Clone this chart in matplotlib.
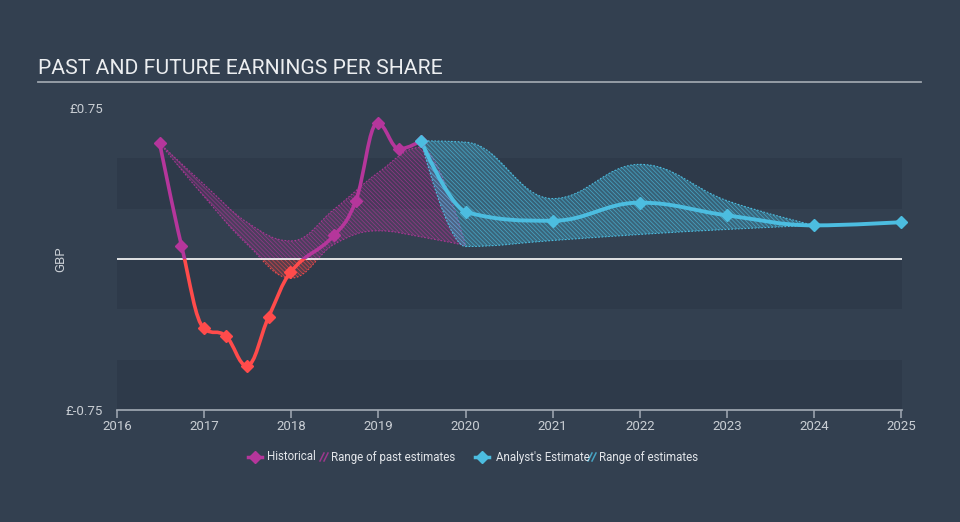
import matplotlib
matplotlib.use('Agg')
import matplotlib.pyplot as plt
from matplotlib.path import Path
from matplotlib.patches import PathPatch, Rectangle
from matplotlib.lines import Line2D

plt.rcParams['font.family'] = ['Roboto', 'DejaVu Sans']
plt.rcParams['hatch.linewidth'] = 0.55

# ---------------- data ----------------
hist_x = [2016.49, 2016.74, 2017.0, 2017.25, 2017.49, 2017.74, 2017.99,
          2018.49, 2018.74, 2018.99, 2019.24, 2019.49]
hist_y = [0.575, 0.067, -0.345, -0.383, -0.53, -0.288, -0.067,
          0.117, 0.288, 0.675, 0.547, 0.587]

fc_x = [2019.49, 2020.0, 2021.0, 2022.0, 2023.0, 2024.0, 2025.0]
fc_y = [0.587, 0.233, 0.19, 0.28, 0.217, 0.167, 0.183]

fr_x = [2019.49, 2020.0, 2021.0, 2022.0, 2023.0, 2024.0]
fr_hi = [0.587, 0.58, 0.30, 0.47, 0.29, 0.167]
fr_lo = [0.587, 0.062, 0.092, 0.122, 0.147, 0.167]

pr_x = [2016.49, 2017.0, 2017.5, 2018.0, 2018.5, 2019.0, 2019.49, 2020.0]
pr_hi = [0.575, 0.37, 0.18, 0.09, 0.25, 0.43, 0.555, 0.067]
pr_lo = [0.575, 0.31, 0.07, -0.095, 0.075, 0.14, 0.11, 0.067]

year_ticks = [2016, 2017, 2018, 2019, 2020, 2021, 2022, 2023, 2024, 2025]
y_ticks = [-0.75, 0.75]
y_labels = ['£-0.75', '£0.75']

# ---------------- colours ----------------
BG = '#334050'
DARK = '#2e3a4a'
PURPLE = '#b5369b'
RED = '#ff4b4b'
CYAN = '#4cbde0'
AXIS = '#a3abb5'
TXT = '#c9ced4'

HATCH = '\\' * 8


def spline_ctrl(xs, ys):
    n = len(xs)
    left = [None] * n
    right = [None] * n
    sm, den = 1.5, 2.5
    for i in range(n):
        x, y = xs[i], ys[i]
        if 0 < i < n - 1:
            lx, ly = xs[i - 1], ys[i - 1]
            nx, ny = xs[i + 1], ys[i + 1]
            lcx = (sm * x + lx) / den
            lcy = (sm * y + ly) / den
            rcx = (sm * x + nx) / den
            rcy = (sm * y + ny) / den
            if rcx != lcx:
                corr = ((rcy - lcy) * (rcx - x)) / (rcx - lcx) + y - rcy
                lcy += corr
                rcy += corr
            if lcy > ly and lcy > y:
                lcy = max(ly, y); rcy = 2 * y - lcy
            elif lcy < ly and lcy < y:
                lcy = min(ly, y); rcy = 2 * y - lcy
            if rcy > ny and rcy > y:
                rcy = max(ny, y); lcy = 2 * y - rcy
            elif rcy < ny and rcy < y:
                rcy = min(ny, y); lcy = 2 * y - rcy
            left[i] = (lcx, lcy)
            right[i] = (rcx, rcy)
        else:
            left[i] = (x, y)
            right[i] = (x, y)
    return left, right


def spline_verts(xs, ys):
    left, right = spline_ctrl(xs, ys)
    verts = [(xs[0], ys[0])]
    codes = [Path.MOVETO]
    for i in range(1, len(xs)):
        verts += [right[i - 1], left[i], (xs[i], ys[i])]
        codes += [Path.CURVE4] * 3
    return verts, codes


def spline_path(xs, ys):
    v, c = spline_verts(xs, ys)
    return Path(v, c)


def band_path(xs, hi, lo):
    uv, uc = spline_verts(xs, hi)
    lv, lc = spline_verts(xs, lo)
    verts = uv + list(reversed(lv)) + [uv[0]]
    codes = uc + [Path.LINETO] + [Path.CURVE4] * (len(lv) - 1) + [Path.CLOSEPOLY]
    return Path(verts, codes)


fig = plt.figure(figsize=(9.6, 5.22), dpi=100, facecolor=BG)
W, H = 960, 522
ax = fig.add_axes([117 / W, 1 - 410 / H, (902 - 117) / W, (410 - 108) / H])
ax.set_facecolor(BG)
ax.set_xlim(2016, 2025.01)
ax.set_ylim(-0.75, 0.75)

for lo_, hi_ in [(0.25, 0.5), (-0.25, 0.0), (-0.75, -0.5)]:
    ax.axhspan(lo_, hi_, color=DARK, lw=0, zorder=0)

clip_pos = Rectangle((2015, 0), 20, 1, transform=ax.transData)
clip_neg = Rectangle((2015, -1), 20, 1, transform=ax.transData)

# past estimate range
pband = band_path(pr_x, pr_hi, pr_lo)
for col, clip in [(PURPLE, clip_pos), (RED, clip_neg)]:
    p = PathPatch(pband, facecolor=col, alpha=0.2, lw=0, zorder=1)
    ax.add_patch(p); p.set_clip_path(clip)
    p = PathPatch(pband, facecolor='none', edgecolor=col, alpha=0.65, lw=0,
                  hatch=HATCH, zorder=1.1)
    ax.add_patch(p); p.set_clip_path(clip)
    for yy in (pr_hi, pr_lo):
        p = PathPatch(spline_path(pr_x, yy), fill=False, edgecolor=col,
                      lw=0.8, ls=(0, (1.5, 1.5)), alpha=0.9, zorder=1.2)
        ax.add_patch(p); p.set_clip_path(clip)

# forecast range
fband = band_path(fr_x, fr_hi, fr_lo)
ax.add_patch(PathPatch(fband, facecolor=CYAN, alpha=0.3, lw=0, zorder=1.5))
ax.add_patch(PathPatch(fband, facecolor='none', edgecolor=CYAN, alpha=0.7, lw=0,
                       hatch=HATCH, zorder=1.6))
for yy in (fr_hi, fr_lo):
    ax.add_patch(PathPatch(spline_path(fr_x, yy), fill=False, edgecolor=CYAN,
                           lw=0.8, ls=(0, (1.5, 1.5)), zorder=1.7))

ax.axhline(0, color='white', lw=1.2, zorder=2)

# historical line
hpath = spline_path(hist_x, hist_y)
for col, clip in [(PURPLE, clip_pos), (RED, clip_neg)]:
    p = PathPatch(hpath, fill=False, edgecolor=col, lw=2.6,
                  capstyle='round', joinstyle='round', zorder=3)
    ax.add_patch(p); p.set_clip_path(clip)
    m, = ax.plot(hist_x, hist_y, ls='none', marker='D', ms=6.5, color=col,
                 mec=col, zorder=4)
    m.set_clip_path(clip)

# forecast line
ax.add_patch(PathPatch(spline_path(fc_x, fc_y), fill=False, edgecolor=CYAN, lw=2.8,
                       capstyle='round', joinstyle='round', zorder=3))
ax.plot(fc_x, fc_y, ls='none', marker='D', ms=6.5, color=CYAN, zorder=4,
        clip_on=False)

# axes styling
for s in ['top', 'right', 'left']:
    ax.spines[s].set_visible(False)
ax.spines['bottom'].set_color(AXIS)
ax.spines['bottom'].set_linewidth(1.2)
ax.set_xticks(year_ticks)
ax.set_xticklabels([str(y) for y in year_ticks])
ax.tick_params(axis='x', length=6, width=1.1, color=AXIS, labelcolor=TXT,
               labelsize=9.5, pad=1)
ax.set_yticks(y_ticks)
ax.set_yticklabels(y_labels)
ax.tick_params(axis='y', length=0, labelcolor=TXT, labelsize=9.5, pad=10)
ax.set_ylabel('GBP', color=TXT, fontsize=9.5)
ax.yaxis.set_label_coords((67 - 117) / (902 - 117), 0.5)


def fx(px):
    return px / W


def fy(py):
    return 1 - py / H


# title
fig.text(fx(38), fy(68), 'PAST AND FUTURE EARNINGS PER SHARE', color='#eceef0',
         fontsize=15.2, va='center', ha='left')
fig.add_artist(Line2D([fx(38), fx(921)], [fy(82), fy(82)], color='#9da4ad', lw=1.3))


def hatch_icon(x0, col):
    for dx in (0, 4):
        fig.add_artist(Line2D([fx(x0 + dx), fx(x0 + dx + 4)], [fy(461), fy(453)],
                              color=col, lw=1.1, alpha=0.8))


# legend
LY = 457
LT = '#e3e6ea'
LFS = 8.3
fig.add_artist(Line2D([fx(248), fx(262)], [fy(LY), fy(LY)], color=PURPLE, lw=2.5))
fig.add_artist(Line2D([fx(255)], [fy(LY)], marker='D', ms=6, color=PURPLE, ls='none'))
fig.text(fx(267), fy(LY), 'Historical', color=LT, fontsize=LFS, va='center', ha='left')
hatch_icon(320, PURPLE)
fig.text(fx(331), fy(LY), 'Range of past estimates', color=LT, fontsize=LFS,
         va='center', ha='left')
fig.add_artist(Line2D([fx(475), fx(489)], [fy(LY), fy(LY)], color=CYAN, lw=2.5))
fig.add_artist(Line2D([fx(482)], [fy(LY)], marker='D', ms=6, color=CYAN, ls='none'))
fig.text(fx(496), fy(LY), "Analyst's Estimate", color=LT, fontsize=LFS,
         va='center', ha='left')
hatch_icon(588, CYAN)
fig.text(fx(599), fy(LY), 'Range of estimates', color=LT, fontsize=LFS,
         va='center', ha='left')

fig.savefig('out.png', dpi=100, facecolor=BG)
